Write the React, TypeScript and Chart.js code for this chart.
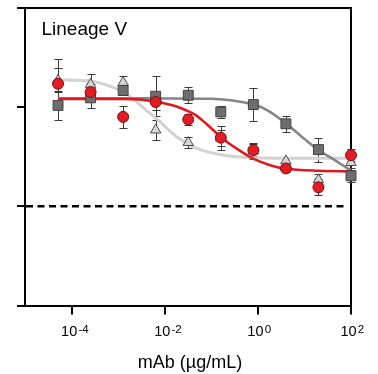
import React, { useEffect, useRef } from "react";
import { Chart, registerables } from "chart.js";

Chart.register(...registerables);

// ---- data ----
const concentrations = [5.12e-5, 2.56e-4, 1.28e-3, 6.4e-3, 0.032, 0.16, 0.8, 4, 20, 100];

const squareValues = [100.9, 104.7, 108.4, 105.5, 106.0, 97.6, 101.3, 91.6, 78.6, 65.4];
const squareErrors = [7.5, 5, 2.5, 10, 4, 3, 8.5, 4, 6, 3];

const circleValues = [111.8, 107.6, 95.1, 102.6, 93.8, 84.6, 78.3, 69.1, 59.6, 75.8];
const circleErrors = [12.5, 4, 5.5, 4, 3, 6, 3, 2, 4, 3];

const triangleValues = [113.5, 111.5, 112.5, 88.5, 82.2, 84.5, 77.9, 72.9, 63.4, 72.1];
const triangleErrors = [6, 5, 3, 5, 3, 4, 4, 2, 3, 3];

const squareCurveX = [5.12e-5, 1e-3, 0.01, 0.1, 0.316, 1, 2, 4.1, 10, 20, 44.7, 100];
const squareCurveY = [104.5, 104.5, 104.4, 104.2, 103.2, 100.7, 97, 91.6, 84, 78.4, 73.3, 68];

const circleCurveX = [5.12e-5, 1.29e-3, 6.3e-3, 0.0132, 0.0219, 0.0324, 0.0457, 0.0759, 0.166, 0.372, 0.813, 1.91, 4.12, 20.4, 100];
const circleCurveY = [104.1, 104.1, 102.9, 101.2, 99.6, 97.9, 96.1, 91.9, 84.6, 78.7, 73.9, 70.6, 68.9, 67.9, 67.6];

const triangleCurveX = [5.12e-5, 2.5e-4, 6.8e-4, 1.41e-3, 3.47e-3, 6.9e-3, 0.0186, 0.0457, 0.174, 0.631, 2.4, 100];
const triangleCurveY = [113.8, 113.2, 110.5, 107.1, 99.8, 93.8, 84.8, 79.5, 75.9, 74.6, 74.3, 74.3];

const xTickValues = [1e-4, 1e-2, 1, 100];
const xTickExponents = ["-4", "-2", "0", "2"];
const yTickValues = [0, 50, 100, 150];
const referenceLevel = 50;
const panelLabel = "Lineage V";
const xAxisTitle = "mAb (µg/mL)";

const FONT = '"Liberation Sans", Arial, Helvetica, sans-serif';

const pts = (xs: number[], ys: number[]) => xs.map((x, i) => ({ x, y: ys[i] }));

const decorPlugin = {
  id: "decor",
  beforeDatasetsDraw(chart: any) {
    const { ctx, chartArea: a, scales } = chart;
    const x = scales.x;
    const y = scales.y;
    ctx.save();
    // top & right frame
    ctx.strokeStyle = "#000";
    ctx.lineWidth = 2;
    ctx.beginPath();
    ctx.moveTo(a.left, Math.round(a.top));
    ctx.lineTo(Math.round(a.right), Math.round(a.top));
    ctx.lineTo(Math.round(a.right), a.bottom);
    ctx.stroke();
    // dashed reference line
    const yRef = y.getPixelForValue(referenceLevel);
    ctx.setLineDash([7, 4.5]);
    ctx.lineWidth = 2.5;
    ctx.beginPath();
    ctx.moveTo(a.left + 1, yRef);
    ctx.lineTo(a.right - 4, yRef);
    ctx.stroke();
    ctx.setLineDash([]);
    // error bars
    chart.data.datasets.forEach((ds: any) => {
      if (!ds.errors) return;
      ctx.strokeStyle = "#3a3a3a";
      ctx.lineWidth = 1;
      ds.data.forEach((p: any, j: number) => {
        const e = ds.errors[j];
        const px = Math.round(x.getPixelForValue(p.x)) + 0.5;
        const y1 = Math.round(y.getPixelForValue(p.y + e)) + 0.5;
        const y2 = Math.round(y.getPixelForValue(p.y - e)) + 0.5;
        ctx.beginPath();
        ctx.moveTo(px, y1);
        ctx.lineTo(px, y2);
        ctx.moveTo(px - 4, y1);
        ctx.lineTo(px + 4, y1);
        ctx.moveTo(px - 4, y2);
        ctx.lineTo(px + 4, y2);
        ctx.stroke();
      });
    });
    // panel label
    ctx.fillStyle = "#000";
    ctx.font = `19px ${FONT}`;
    ctx.textAlign = "left";
    ctx.textBaseline = "alphabetic";
    ctx.fillText(panelLabel, a.left + 16.5, a.top + 27.3);
    ctx.restore();
  },
  afterDraw(chart: any) {
    const { ctx, chartArea: a, scales } = chart;
    const x = scales.x;
    ctx.save();
    ctx.fillStyle = "#000";
    ctx.textAlign = "left";
    ctx.textBaseline = "alphabetic";
    xTickValues.forEach((v, i) => {
      const px = x.getPixelForValue(v);
      ctx.font = `14.5px ${FONT}`;
      const left = px - 10.5;
      ctx.fillText("10", left, a.bottom + 30.5);
      const w = ctx.measureText("10").width;
      ctx.font = `11.5px ${FONT}`;
      ctx.fillText(xTickExponents[i], left + w + 1.2, a.bottom + 27);
    });
    ctx.font = `18px ${FONT}`;
    ctx.textAlign = "center";
    ctx.fillText(xAxisTitle, (a.left + a.right) / 2 + 2, a.bottom + 62.5);
    ctx.restore();
  },
};

export default function App() {
  const ref = useRef<HTMLCanvasElement | null>(null);
  useEffect(() => {
    if (!ref.current) return;
    const chart = new Chart(ref.current, {
      type: "scatter",
      data: {
        datasets: [
          {
            type: "scatter",
            label: "circles",
            data: pts(concentrations, circleValues),
            errors: circleErrors,
            pointStyle: "circle",
            pointRadius: 5.5,
            backgroundColor: "#e31b23",
            borderColor: "#7a1010",
            borderWidth: 1,
            clip: false,
            order: 1,
          } as any,
          {
            type: "scatter",
            label: "squares",
            data: pts(concentrations, squareValues),
            errors: squareErrors,
            pointStyle: "rect",
            pointRadius: 7,
            backgroundColor: "#6e6e6e",
            borderColor: "#404040",
            borderWidth: 1,
            clip: false,
            order: 2,
          } as any,
          {
            type: "scatter",
            label: "triangles",
            data: pts(concentrations, triangleValues),
            errors: triangleErrors,
            pointStyle: "triangle",
            pointRadius: 6,
            backgroundColor: "#d6d6d6",
            borderColor: "#4a4a4a",
            borderWidth: 1,
            clip: false,
            order: 3,
          } as any,
          {
            type: "line",
            label: "circle fit",
            data: pts(circleCurveX, circleCurveY),
            borderColor: "#e0181e",
            borderWidth: 2.5,
            pointRadius: 0,
            cubicInterpolationMode: "monotone",
            fill: false,
            clip: false,
            order: 4,
          } as any,
          {
            type: "line",
            label: "square fit",
            data: pts(squareCurveX, squareCurveY),
            borderColor: "#858585",
            borderWidth: 2.5,
            pointRadius: 0,
            cubicInterpolationMode: "monotone",
            fill: false,
            clip: false,
            order: 5,
          } as any,
          {
            type: "line",
            label: "triangle fit",
            data: pts(triangleCurveX, triangleCurveY),
            borderColor: "#d2d2d2",
            borderWidth: 3,
            pointRadius: 0,
            cubicInterpolationMode: "monotone",
            fill: false,
            clip: false,
            order: 6,
          } as any,
        ],
      },
      options: {
        animation: false,
        responsive: false,
        devicePixelRatio: 1,
        layout: { padding: { top: 5, right: 27, left: 0, bottom: 0 } },
        plugins: { legend: { display: false }, tooltip: { enabled: false }, title: { display: false } },
        events: [],
        scales: {
          x: {
            type: "logarithmic",
            min: 1e-5,
            max: 100,
            afterBuildTicks: (s: any) => {
              s.ticks = xTickValues.map((v) => ({ value: v }));
            },
            afterFit: (s: any) => {
              s.height = 68.5;
            },
            ticks: { display: false },
            grid: { drawOnChartArea: false, drawTicks: true, tickLength: 9, lineWidth: 2, color: "#000" },
            border: { display: true, color: "#000", width: 2 },
          },
          y: {
            type: "linear",
            min: 0,
            max: 150,
            afterBuildTicks: (s: any) => {
              s.ticks = yTickValues.map((v) => ({ value: v }));
            },
            afterFit: (s: any) => {
              s.width = 25;
            },
            ticks: { display: false },
            grid: { drawOnChartArea: false, drawTicks: true, tickLength: 8, lineWidth: 2, color: "#000" },
            border: { display: true, color: "#000", width: 2 },
          },
        },
      } as any,
      plugins: [decorPlugin],
    });
    return () => chart.destroy();
  }, []);
  return (
    <div style={{ position: "fixed", left: 0, top: 0, width: 378, height: 374, background: "#fff" }}>
      <canvas ref={ref} width={378} height={374} style={{ width: 378, height: 374, display: "block" }} />
    </div>
  );
}
